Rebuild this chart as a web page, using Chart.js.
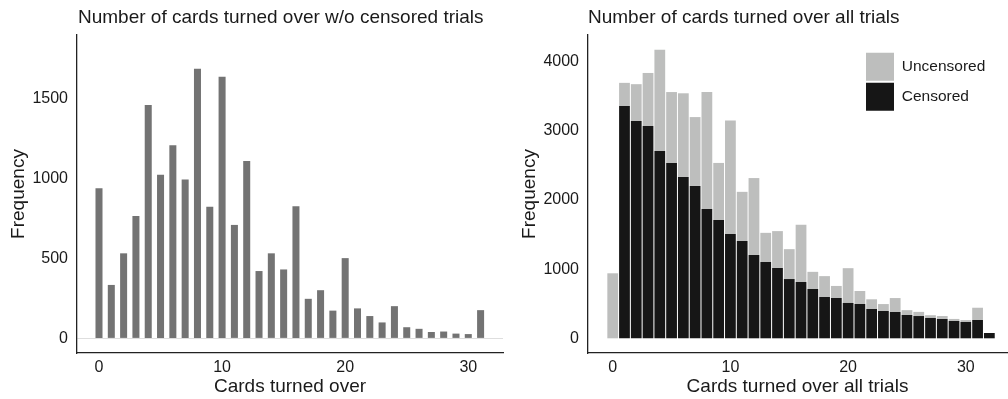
<!DOCTYPE html>
<html>
<head>
<meta charset="utf-8">
<script src="https://cdn.jsdelivr.net/npm/chart.js@4/dist/chart.umd.min.js"></script>
<style>
  html, body { margin: 0; padding: 0; background: #fff; }
  #wrap { position: relative; width: 1008px; height: 399px; }
  .panel { position: absolute; top: 0; width: 504px; height: 399px; }
  #p1 { left: 0; }
  #p2 { left: 504px; }
</style>
</head>
<body>
<div id="wrap">
  <div class="panel" id="p1"><canvas id="c1" width="504" height="399"></canvas></div>
  <div class="panel" id="p2"><canvas id="c2" width="504" height="399"></canvas></div>
</div>
<script>
// ---- data ----
const cardsLeft = [0,1,2,3,4,5,6,7,8,9,10,11,12,13,14,15,16,17,18,19,20,21,22,23,24,25,26,27,28,29,30,31];
const cardsRight = [0,1,2,3,4,5,6,7,8,9,10,11,12,13,14,15,16,17,18,19,20,21,22,23,24,25,26,27,28,29,30,31,32];
const uncensored = [940,335,533,767,1462,1026,1210,996,1690,825,1640,711,1112,422,533,432,828,248,302,174,503,188,140,100,202,70,60,40,43,30,27,177,0];
const censored   = [0,3359,3142,3070,2709,2535,2333,2203,1870,1711,1509,1407,1205,1103,1017,857,814,713,597,583,511,496,424,395,380,337,322,294,279,250,236,265,77];
const xTicks = [0,10,20,30];
const yTicksLeft = [0,500,1000,1500];
const yTicksRight = [0,1000,2000,3000,4000];
const titleLeft = 'Number of cards turned over w/o censored trials';
const titleRight = 'Number of cards turned over all trials';
const xTitleLeft = 'Cards turned over';
const xTitleRight = 'Cards turned over all trials';
const yTitle = 'Frequency';
const seriesNames = ['Uncensored', 'Censored'];

// ---- styling ----
const FONT = "'Liberation Sans', Arial, Helvetica, sans-serif";
const TXT = '#1a1a1a';
Chart.defaults.font.family = FONT;
Chart.defaults.color = TXT;

function pts(xs, ys) { return xs.map((x, i) => ({x: x, y: ys[i]})); }

function titlePlugin(leftX) {
  return {
    id: 'titleShift',
    afterLayout(chart) { if (chart.titleBlock) chart.titleBlock.left = leftX; }
  };
}

function makeScales(opts) {
  return {
    x: {
      type: 'linear', min: opts.xmin, max: opts.xmax, stacked: opts.stacked, offset: false,
      afterBuildTicks: s => { s.ticks = xTicks.map(v => ({value: v})); },
      afterFit: s => { s.height = 46; },
      grid: { display: false, drawTicks: false },
      border: { display: true, color: '#222', width: 1.3 },
      ticks: { padding: 5, font: { size: 16 }, color: TXT, maxRotation: 0, callback: v => String(v) },
      title: { display: true, text: opts.xTitle, font: { size: 19 }, color: TXT, padding: { top: 0, bottom: 1 } }
    },
    y: {
      type: 'linear', min: opts.ymin, max: opts.ymax, stacked: opts.stacked,
      afterBuildTicks: s => { s.ticks = opts.yTicks.map(v => ({value: v})); },
      afterFit: s => { s.width = opts.yWidth; },
      grid: { display: opts.zeroLine, drawTicks: false, color: c => (c.tick && c.tick.value === 0) ? '#dedede' : 'rgba(0,0,0,0)' },
      border: { display: true, color: '#222', width: 1.3 },
      ticks: { padding: 9, font: { size: 16 }, color: TXT, callback: v => String(v) },
      title: { display: true, text: yTitle, font: { size: 19 }, color: TXT, padding: { top: opts.yTitlePad, bottom: 0 } }
    }
  };
}

// ---- left chart ----
new Chart(document.getElementById('c1'), {
  type: 'bar',
  data: {
    datasets: [{
      label: seriesNames[0],
      data: pts(cardsLeft, uncensored.slice(0, cardsLeft.length)),
      backgroundColor: '#737373',
      borderWidth: 0,
      barPercentage: 0.57,
      categoryPercentage: 1.0
    }]
  },
  options: {
    responsive: false, animation: false, devicePixelRatio: 1,
    layout: { padding: { left: 0, right: 1, top: 0, bottom: 0 } },
    plugins: {
      legend: { display: false },
      tooltip: { enabled: false },
      title: { display: true, text: titleLeft, align: 'start', font: { size: 19, weight: 'normal' }, color: TXT, padding: { top: 6, bottom: 6.2 } }
    },
    scales: makeScales({ xmin: -1.787, xmax: 32.82, ymin: -91.5, ymax: 1901, yTicks: yTicksLeft, yWidth: 77, xTitle: xTitleLeft, yTitlePad: 7, stacked: false, zeroLine: true })
  },
  plugins: [titlePlugin(78)]
});

// ---- right chart ----
new Chart(document.getElementById('c2'), {
  type: 'bar',
  data: {
    datasets: [
      {
        label: seriesNames[1],
        data: pts(cardsRight, censored),
        backgroundColor: '#161616',
        borderWidth: 0,
        barPercentage: 0.915,
        categoryPercentage: 1.0
      },
      {
        label: seriesNames[0],
        data: pts(cardsRight, uncensored),
        backgroundColor: '#bdbebd',
        borderWidth: 0,
        barPercentage: 0.915,
        categoryPercentage: 1.0
      }
    ]
  },
  options: {
    responsive: false, animation: false, devicePixelRatio: 1,
    layout: { padding: { left: 0, right: 1, top: 0, bottom: 0 } },
    plugins: {
      tooltip: { enabled: false },
      title: { display: true, text: titleRight, align: 'start', font: { size: 19, weight: 'normal' }, color: TXT, padding: { top: 6, bottom: 6.2 } },
      legend: {
        display: true, position: 'chartArea', align: 'start', reverse: true,
        labels: { boxWidth: 28, boxHeight: 28, padding: 2, font: { size: 15.5 }, color: TXT }
      }
    },
    scales: makeScales({ xmin: -2.1, xmax: 33.5, ymin: -212.6, ymax: 4386, yTicks: yTicksRight, yWidth: 84, xTitle: xTitleRight, yTitlePad: 14, stacked: true, zeroLine: false })
  },
  plugins: [titlePlugin(84), {
    id: 'legendPos',
    afterLayout(chart) {
      const lg = chart.legend;
      if (lg) { lg.left = 360; lg.top = 50.7; }
    }
  }]
});
</script>
</body>
</html>
